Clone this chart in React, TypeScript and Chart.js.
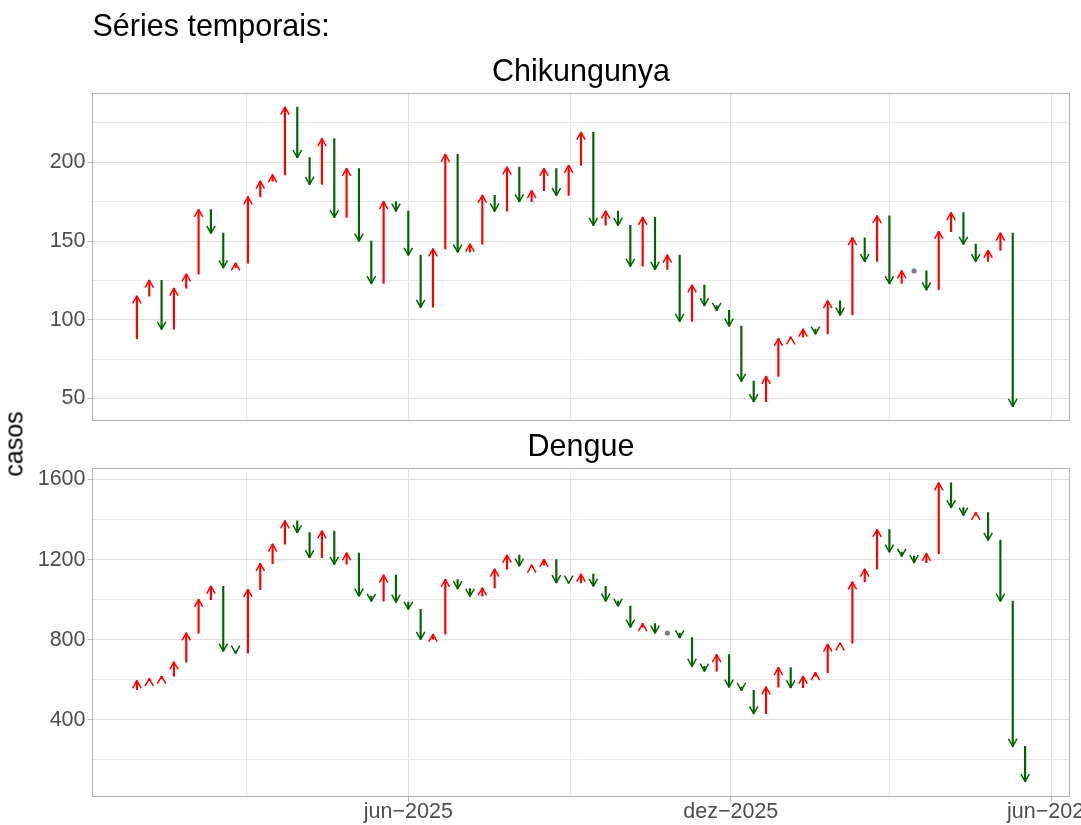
import React, { useEffect, useRef } from "react";
import { Chart, registerables } from "chart.js";

Chart.register(...registerables);

// ---------------- data ----------------
const START_WEEK = "2024-12-29"; // first epidemiological week shown
const weekStarts: string[] = []; // filled below from START_WEEK (weekly categories)

const chikPrevWeek = 88;
const chikCases: (number | null)[] = [
  115, 125, 94, 120, 129, 170, 155, 133, 136, 178,
  188, 192, 235, 203, 186, 215, 165, 196, 150, 123,
  175, 169, 141, 108, 145, 205, 143, 148, 179, 169,
  197, 175, 182, 196, 179, 198, 219, 160, 169, 160,
  134, 165, 132, 141, 99, 122, 109, 106, 96, 61,
  48, 64, 88, 89, 94, 91, 112, 103, 152, 137,
  166, 123, 131, 131, 119, 156, 168, 148, 137, 144,
  155, 45, null,
];

const denguePrevWeek = 550;
const dengueCases: (number | null)[] = [
  595, 605, 617, 688, 833, 1000, 1067, 743, 733, 1050,
  1180, 1277, 1393, 1335, 1210, 1343, 1177, 1233, 1018, 992,
  1122, 988, 952, 802, 827, 1100, 1055, 1017, 1058, 1152,
  1222, 1168, 1172, 1200, 1085, 1083, 1127, 1067, 993, 968,
  863, 880, 833, 833, 810, 667, 643, 725, 563, 547,
  430, 563, 660, 560, 617, 635, 777, 783, 1088, 1152,
  1350, 1238, 1217, 1185, 1230, 1583, 1460, 1422, 1435, 1297,
  993, 267, 92,
];

const chikMajorTicks = [50, 100, 150, 200];
const chikMinorTicks = [75, 125, 175, 225];
const dengueMajorTicks = [400, 800, 1200, 1600];
const dengueMinorTicks = [200, 600, 1000, 1400];

const xTickDates = ["2025-03-01", "2025-06-01", "2025-09-01", "2025-12-01", "2026-03-01", "2026-06-01"];
const xTickLabels = ["", "jun\u22122025", "", "dez\u22122025", "", "jun\u22122026"];

// ---------------- helpers ----------------
const DAY = 86400000;
const dayOf = (s: string) => Math.round((Date.parse(s + "T00:00:00Z") - Date.parse(START_WEEK + "T00:00:00Z")) / DAY);
for (let i = 0; i < dengueCases.length; i++) {
  weekStarts.push(new Date(Date.parse(START_WEEK + "T00:00:00Z") + i * 7 * DAY).toISOString().slice(0, 10));
}
const xTickValues = xTickDates.map(dayOf);
const xMajor = xTickValues.filter((_, i) => xTickLabels[i] !== "");
const lastDay = dayOf(weekStarts[weekStarts.length - 1]);
const xExpand = lastDay * 0.05;
const X_MIN = -xExpand;
const X_MAX = lastDay + xExpand;

const RED = "#ff0000";
const GREEN = "#006400";
const DOT = "#7f7f7f";
const FONT = '"Liberation Sans", Arial, Helvetica, sans-serif';

Chart.defaults.font.family = FONT;

function buildSeries(prevStart: number, cases: (number | null)[]) {
  const bars: { x: number; y: [number, number] }[] = [];
  const flats: { x: number; y: number }[] = [];
  let prev: number | null = prevStart;
  cases.forEach((v, i) => {
    const x = dayOf(weekStarts[i]);
    if (v == null || prev == null) {
      prev = v;
      return;
    }
    if (v === prev) flats.push({ x, y: v });
    else bars.push({ x, y: [prev, v] });
    prev = v;
  });
  return { bars, flats };
}

const arrowHeads = {
  id: "arrowHeads",
  afterDatasetsDraw(chart: any) {
    const ds = chart.data.datasets[0];
    const xs = chart.scales.x;
    const ys = chart.scales.y;
    const ctx = chart.ctx;
    const L = 8.5;
    const ang = Math.PI / 6;
    ctx.save();
    ctx.lineWidth = 1.5;
    ctx.lineJoin = "round";
    ctx.lineCap = "butt";
    for (const d of ds.data) {
      if (!d) continue;
      const [a, b] = d.y;
      const up = b > a;
      const px = xs.getPixelForValue(d.x);
      const py = ys.getPixelForValue(b);
      const dx = L * Math.sin(ang);
      const dy = L * Math.cos(ang) * (up ? 1 : -1);
      ctx.strokeStyle = up ? RED : GREEN;
      ctx.beginPath();
      ctx.moveTo(px - dx, py + dy);
      ctx.lineTo(px, py);
      ctx.lineTo(px + dx, py + dy);
      ctx.stroke();
    }
    ctx.restore();
  },
};

const panelBorder = {
  id: "panelBorder",
  afterDraw(chart: any) {
    const { ctx, chartArea: a } = chart;
    ctx.save();
    ctx.strokeStyle = "#b3b3b3";
    ctx.lineWidth = 1;
    ctx.strokeRect(a.left, a.top, a.right - a.left, a.bottom - a.top);
    ctx.restore();
  },
};

interface PanelOpts {
  prevStart: number;
  cases: (number | null)[];
  yMin: number;
  yMax: number;
  major: number[];
  minor: number[];
  title: { text: string; align: string; padTop: number; padBottom: number };
  subtitle?: { text: string; padTop: number; padBottom: number };
  showX: boolean;
  padBottom: number;
  xHeight: number;
}

function buildConfig(o: PanelOpts): any {
  const { bars, flats } = buildSeries(o.prevStart, o.cases);
  const tickFont = { family: FONT, size: 21.5, lineHeight: 1 };
  const titleFont = { family: FONT, size: 30.5, weight: "normal" as const, lineHeight: 1.2 };
  const yTicks = [...o.minor, ...o.major].sort((a, b) => a - b);
  return {
    type: "bar",
    data: {
      datasets: [
        {
          type: "bar",
          data: bars,
          backgroundColor: (c: any) => {
            const r = c.raw;
            return r && r.y[1] > r.y[0] ? RED : GREEN;
          },
          barThickness: 1.5,
          grouped: false,
          borderWidth: 0,
        },
        {
          type: "scatter",
          data: flats,
          pointRadius: 2.6,
          pointBackgroundColor: DOT,
          pointBorderWidth: 0,
          showLine: false,
        },
      ],
    },
    options: {
      responsive: false,
      animation: false,
      events: [],
      layout: { padding: { top: 0, left: 0, right: 11.5, bottom: o.padBottom } },
      plugins: {
        legend: { display: false },
        tooltip: { enabled: false },
        title: {
          display: true,
          text: o.title.text,
          align: o.title.align,
          fullSize: false,
          color: "#000000",
          font: titleFont,
          padding: { top: o.title.padTop, bottom: o.title.padBottom },
        },
        subtitle: o.subtitle
          ? {
              display: true,
              text: o.subtitle.text,
              align: "center",
              fullSize: false,
              color: "#000000",
              font: titleFont,
              padding: { top: o.subtitle.padTop, bottom: o.subtitle.padBottom },
            }
          : { display: false },
      },
      scales: {
        x: {
          type: "linear",
          min: X_MIN,
          max: X_MAX,
          bounds: "data",
          offset: false,
          afterBuildTicks: (s: any) => {
            s.ticks = xTickValues.map((v) => ({ value: v }));
          },
          afterFit: (s: any) => {
            s.height = o.xHeight;
            s.paddingLeft = 0;
            s.paddingRight = 0;
          },
          ticks: {
            display: o.showX,
            autoSkip: false,
            maxRotation: 0,
            minRotation: 0,
            padding: 0,
            color: "#4d4d4d",
            font: tickFont,
            callback: (v: number) => {
              const i = xTickValues.indexOf(v);
              return i >= 0 ? xTickLabels[i] : "";
            },
          },
          grid: {
            offset: false,
            color: (c: any) => (c.tick && xMajor.includes(c.tick.value) ? "#dedede" : "#e8e8e8"),
            lineWidth: 1,
            drawTicks: o.showX,
            tickLength: 5,
            tickColor: (c: any) => (c.tick && xMajor.includes(c.tick.value) ? "#b3b3b3" : "rgba(0,0,0,0)"),
          },
          border: { display: false },
        },
        y: {
          type: "linear",
          min: o.yMin,
          max: o.yMax,
          bounds: "data",
          afterBuildTicks: (s: any) => {
            s.ticks = yTicks.map((v) => ({ value: v }));
          },
          afterFit: (s: any) => {
            s.width = 92.5;
            s.paddingTop = 0;
            s.paddingBottom = 0;
          },
          ticks: {
            autoSkip: false,
            padding: 2,
            color: "#4d4d4d",
            font: tickFont,
            callback: (v: number) => (o.major.includes(v) ? String(v) : ""),
          },
          grid: {
            color: (c: any) => (c.tick && o.major.includes(c.tick.value) ? "#dedede" : "#e8e8e8"),
            lineWidth: 1,
            drawTicks: true,
            tickLength: 5,
            tickColor: (c: any) => (c.tick && o.major.includes(c.tick.value) ? "#b3b3b3" : "rgba(0,0,0,0)"),
          },
          border: { display: false },
        },
      },
    },
    plugins: [arrowHeads, panelBorder],
  };
}

export default function App() {
  const topRef = useRef<HTMLCanvasElement>(null);
  const botRef = useRef<HTMLCanvasElement>(null);

  useEffect(() => {
    const top = new Chart(
      topRef.current as HTMLCanvasElement,
      buildConfig({
        prevStart: chikPrevWeek,
        cases: chikCases,
        yMin: 36,
        yMax: 243.7,
        major: chikMajorTicks,
        minor: chikMinorTicks,
        title: { text: "Séries temporais:", align: "start", padTop: 8.8, padBottom: 0 },
        subtitle: { text: "Chikungunya", padTop: 9, padBottom: 2.5 },
        showX: false,
        padBottom: 9.5,
        xHeight: 0,
      })
    );
    const bottom = new Chart(
      botRef.current as HTMLCanvasElement,
      buildConfig({
        prevStart: denguePrevWeek,
        cases: dengueCases,
        yMin: 16.5,
        yMax: 1655,
        major: dengueMajorTicks,
        minor: dengueMinorTicks,
        title: { text: "Dengue", align: "center", padTop: 4.4, padBottom: 2.5 },
        showX: true,
        padBottom: 0,
        xHeight: 28.5,
      })
    );
    return () => {
      top.destroy();
      bottom.destroy();
    };
  }, []);

  return (
    <div
      style={{
        position: "absolute",
        left: 0,
        top: 0,
        width: 1081,
        height: 825,
        background: "#ffffff",
        overflow: "hidden",
      }}
    >
      <canvas ref={topRef} width={1081} height={430} style={{ position: "absolute", left: 0, top: 0 }} />
      <canvas ref={botRef} width={1081} height={400} style={{ position: "absolute", left: 0, top: 425 }} />
      <div
        style={{
          position: "absolute",
          left: 13.6,
          top: 444.2,
          transform: "translate(-50%, -50%) rotate(-90deg)",
          fontFamily: FONT,
          fontSize: 25,
          lineHeight: 1,
          color: "#000000",
          whiteSpace: "nowrap",
        }}
      >
        casos
      </div>
    </div>
  );
}
